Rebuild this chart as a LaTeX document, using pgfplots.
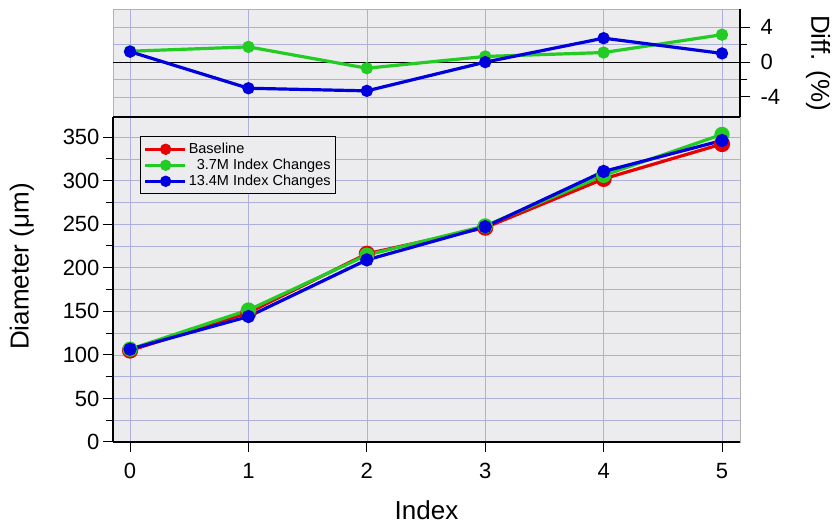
\documentclass[border=0pt]{standalone}
\usepackage{pgfplots}
\pgfplotsset{compat=1.18}
\usepackage{fontspec}
\setmainfont{Liberation Sans}
\definecolor{cred}{RGB}{232,0,0}
\definecolor{cgreen}{RGB}{34,204,34}
\definecolor{cblue}{RGB}{0,0,220}
\definecolor{gridc}{RGB}{175,175,220}
\definecolor{bgc}{RGB}{236,236,238}
\begin{document}
\begin{tikzpicture}
\path[use as bounding box] (0,0) rectangle (832pt,524pt);
\pgfplotsset{
 common/.style={
  scale only axis, width=627pt,
  xmin=-0.144, xmax=5.152,
  /pgf/number format/assume math mode=true,
  tick align=outside, major tick length=10pt, minor tick length=7pt,
  tick style={black, line width=1pt},
  axis background/.style={fill=bgc, draw=gray!60},
  grid style={gridc, line width=0.6pt},
  axis line style={black, line width=1.2pt, -},
  tick label style={font=\fontsize{22}{24}\selectfont},
  label style={font=\fontsize{26}{30}\selectfont},
  xtick={0,...,5}, xmajorgrids, ymajorgrids, yminorgrids,
 }}
\begin{axis}[common, at={(113pt,82pt)}, anchor=south west, height=325pt,
  ymin=0, ymax=373,
  axis x line*=bottom, axis y line*=left,
  ytick={0,50,...,350}, minor ytick={25,75,...,375},
  xticklabel style={yshift=-8pt},
  xlabel={Index}, ylabel={Diameter (μm)},
  xlabel style={at={([yshift=-68pt]axis description cs:0.5,0)}, anchor=center},
  ylabel style={at={([xshift=-91pt]axis description cs:0,0.54)}, anchor=center},
  legend style={at={(0.043,0.941)}, anchor=north west, fill=bgc, draw=black, line width=1.2pt,
    font=\fontsize{14.5}{15.5}\selectfont, row sep=0pt, inner xsep=3pt, inner ysep=4.5pt},
  legend cell align=left,
  legend image code/.code={\path (-7pt,0pt) -- (33pt,0pt); \draw[#1, line width=2.5pt] (0pt,0pt) -- (27pt,0pt); \fill[#1] (13.5pt,0pt) circle (4pt);},
]
\addplot[cred, line width=3.2pt, mark=*, mark size=6.5pt] coordinates {(0,105)(1,148.5)(2,216)(3,246)(4,302)(5,342)};
\addlegendentry{Baseline}
\addplot[cgreen, line width=3.2pt, mark=*, mark size=6pt] coordinates {(0,106.5)(1,151.5)(2,214.5)(3,248)(4,306)(5,353)};
\addlegendentry{\hspace{8pt}3.7M Index Changes}
\addplot[cblue, line width=3.2pt, mark=*, mark size=5pt] coordinates {(0,106.5)(1,144)(2,209)(3,247)(4,310.5)(5,346)};
\addlegendentry{13.4M Index Changes}
\end{axis}
\begin{axis}[common, at={(113pt,407pt)}, anchor=south west, height=108pt,
  ymin=-6.3, ymax=6.1,
  axis x line*=bottom, axis y line*=right,
  xticklabels={}, xtick style={draw=none},
  ytick={-4,0,4}, minor ytick={-2,2},
  yticklabels={-4,0,4},
  yticklabel style={xshift=7pt},
  ylabel={Diff. (\%)},
  ylabel style={at={([xshift=78pt]axis description cs:1,0.5)}, anchor=center, rotate=180},
]
\addplot[black, line width=1.2pt] coordinates {(-0.144,0)(5.152,0)};
\addplot[cgreen, line width=3.2pt, mark=*, mark size=4.5pt] coordinates {(0,1.25)(1,1.75)(2,-0.7)(3,0.65)(4,1.1)(5,3.15)};
\addplot[cblue, line width=3.2pt, mark=*, mark size=4.5pt] coordinates {(0,1.2)(1,-3.0)(2,-3.3)(3,0.0)(4,2.75)(5,1.0)};
\end{axis}
\end{tikzpicture}
\end{document}
